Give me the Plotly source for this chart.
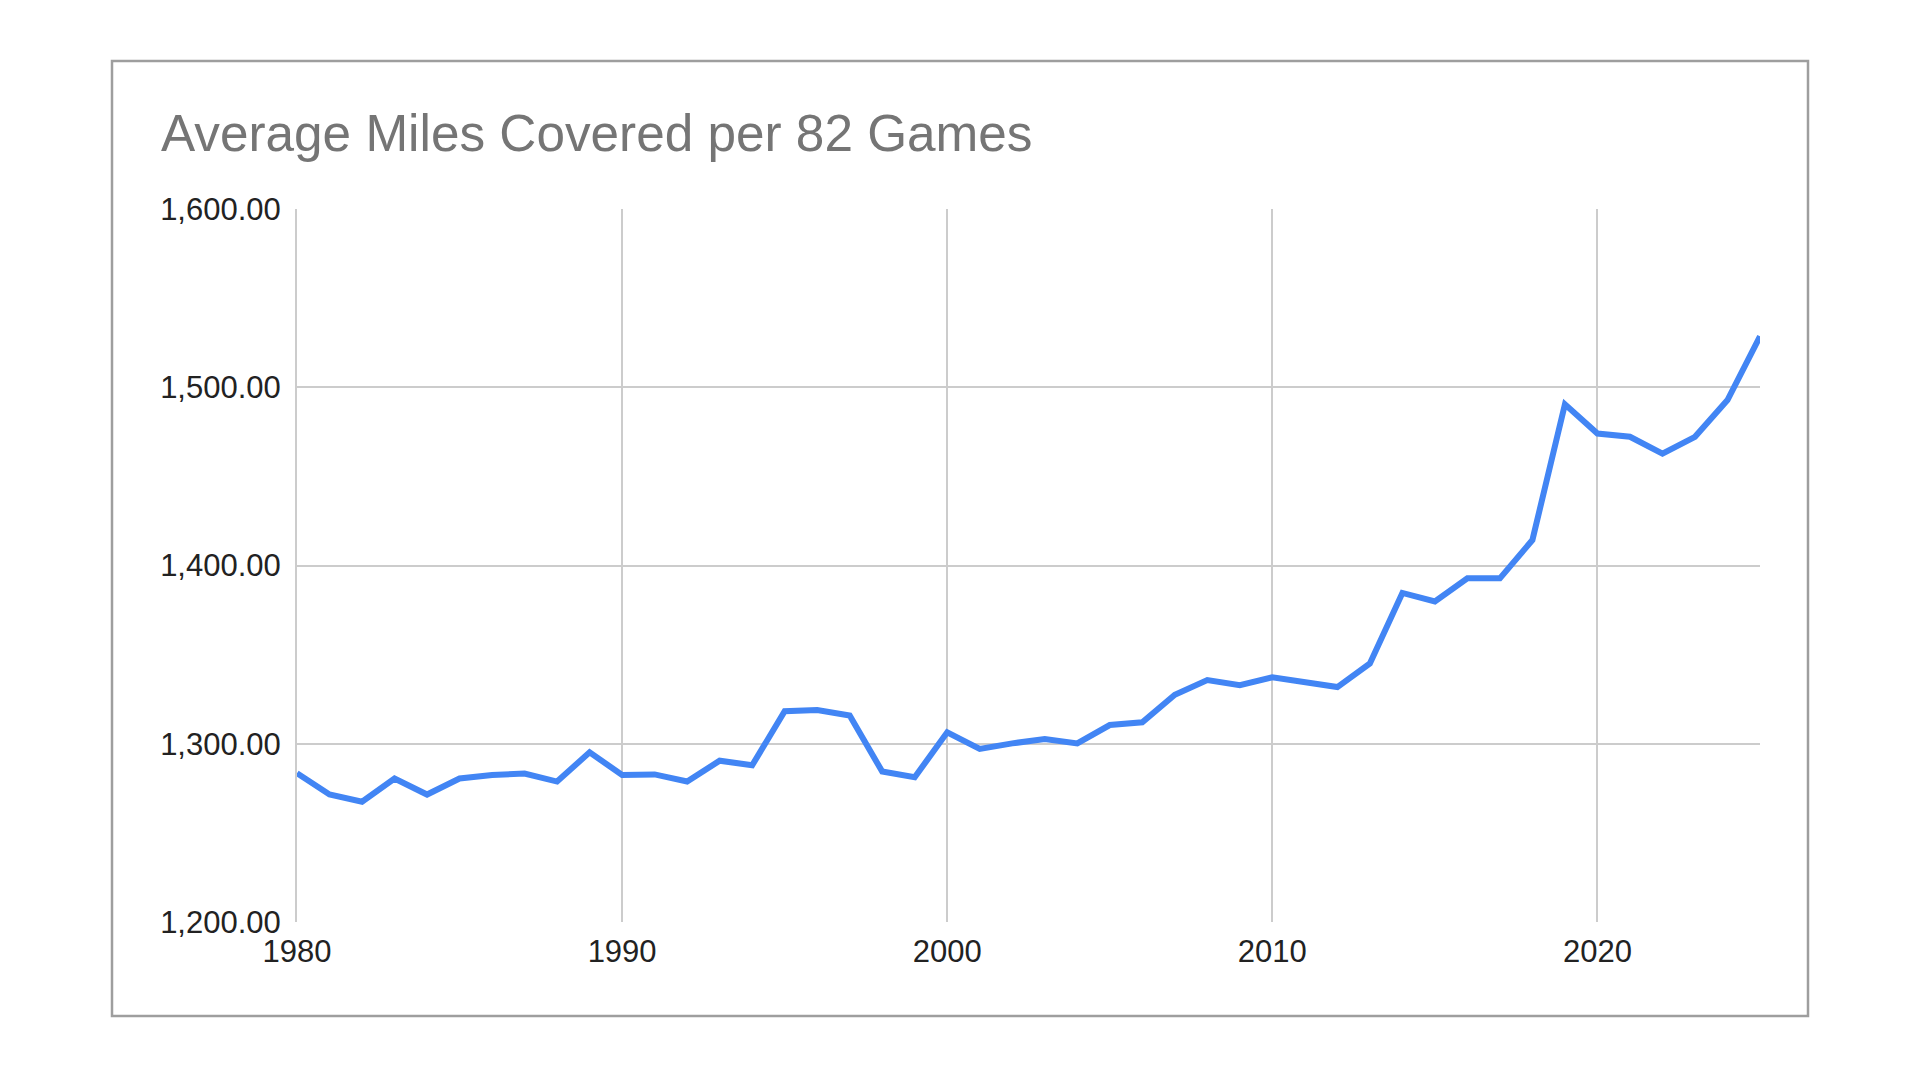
import plotly.graph_objects as go

# ---- data ----
years = list(range(1980, 2026))
miles = [1283.5, 1271.5, 1267.5, 1280.5, 1271.5, 1280.5, 1282.5, 1283.3, 1278.8, 1295.2,
         1282.5, 1282.8, 1278.8, 1290.5, 1287.9, 1318.2, 1318.9, 1315.8, 1284.4, 1281.2,
         1306.4, 1297.1, 1300.2, 1302.7, 1300.2, 1310.5, 1312.0, 1327.5, 1335.7, 1332.9,
         1337.3, 1334.2, 1331.8, 1345.0, 1384.6, 1379.8, 1392.8, 1392.8, 1414.3, 1490.4,
         1474.0, 1472.2, 1462.7, 1472.2, 1492.8, 1528.6]
x_ticks = [1980, 1990, 2000, 2010, 2020]
y_ticks = [1200, 1300, 1400, 1500, 1600]
title_text = "Average Miles Covered per 82 Games"

# ---- geometry (pixels) ----
W, H = 1920, 1080
ML, MR, MT, MB = 297, 160, 209, 158
PW, PH = W - ML - MR, H - MT - MB


def px_x(p):
    return (p - ML) / PW


def px_y(p):
    return (H - MB - p) / PH


FONT = "Liberation Sans, Arial, Helvetica, sans-serif"
GRID = "#cccccc"

fig = go.Figure()
fig.add_trace(go.Scatter(
    x=years, y=miles, mode="lines",
    line=dict(color="#4285F4", width=6),
    hoverinfo="skip", showlegend=False,
))

fig.update_layout(
    width=W, height=H,
    margin=dict(l=ML, r=MR, t=MT, b=MB, pad=0),
    paper_bgcolor="white", plot_bgcolor="white",
    font=dict(family=FONT, color="#222222", size=31),
    showlegend=False,
    xaxis=dict(
        range=[1980, 2025], tickvals=x_ticks, tickformat="d",
        showgrid=True, gridcolor=GRID, gridwidth=2,
        zeroline=False, showline=False, ticks="",
        tickfont=dict(size=31, color="#222222", family=FONT),
        ticklabelstandoff=8,
    ),
    yaxis=dict(
        range=[1200, 1600], tickvals=y_ticks, tickformat=",.2f",
        showgrid=True, gridcolor=GRID, gridwidth=2,
        zeroline=False, showline=True, linecolor=GRID, linewidth=2,
        ticks="",
        tickfont=dict(size=31, color="#222222", family=FONT),
        ticklabelstandoff=8,
    ),
    shapes=[dict(
        type="rect", xref="paper", yref="paper",
        x0=px_x(112), x1=px_x(1808), y0=px_y(1016), y1=px_y(61),
        line=dict(color="#9e9e9e", width=2.5), fillcolor="rgba(0,0,0,0)",
        layer="below",
    )],
    annotations=[dict(
        text=title_text, xref="paper", yref="paper",
        x=px_x(159), y=px_y(134), xanchor="left", yanchor="middle",
        showarrow=False, font=dict(family=FONT, size=51.3, color="#757575"),
    )],
)

fig.write_html("out.html", config={"displayModeBar": False, "staticPlot": True},
               post_script="document.body.style.margin='0';")
